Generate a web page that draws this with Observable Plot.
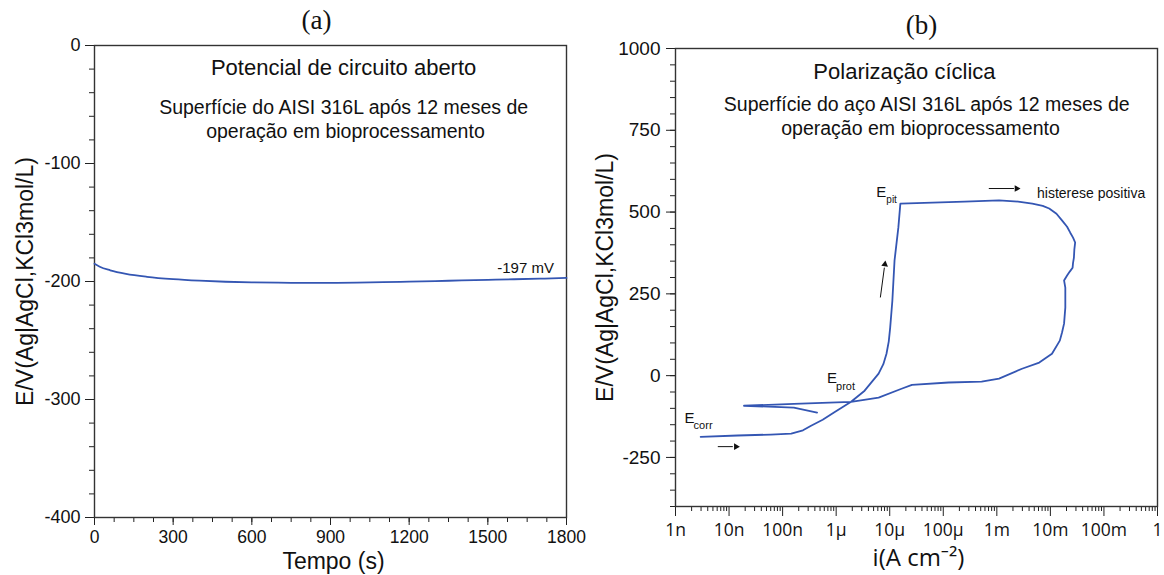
<!DOCTYPE html>
<html>
<head>
<meta charset="utf-8">
<script src="https://cdn.jsdelivr.net/npm/d3@7"></script>
<script src="https://cdn.jsdelivr.net/npm/@observablehq/plot@0.6"></script>
<style>
  html, body { margin: 0; padding: 0; background: #fff; }
  #wrap { position: relative; width: 1164px; height: 575px; overflow: hidden; }
  #wrap svg { position: absolute; top: 0; overflow: visible; }
</style>
</head>
<body>
<div id="wrap"></div>
<script>
// ---------- Panel (a): open circuit potential ----------
const ocpTime = [0, 20, 60, 120, 200, 300, 400, 500, 600, 700, 800, 900, 1000, 1100, 1200, 1300, 1400, 1500, 1600, 1700, 1800];
const ocpPotential = [-185, -187.5, -190.5, -193.5, -196, -198, -199.3, -200.2, -200.7, -201, -201.2, -201.2, -201, -200.6, -200.1, -199.6, -199.1, -198.6, -198.1, -197.6, -197];
const ocpTimeTicks = [0, 300, 600, 900, 1200, 1500, 1800];
const ocpPotTicks = [0, -100, -200, -300, -400];

// ---------- Panel (b): cyclic polarization ----------
const polCurrent = [2.95e-9, 1.45e-8, 6.0e-8, 1.45e-7, 2.4e-7, 3.4e-7, 5.6e-7, 9.1e-7, 1.9e-6, 3.4e-6, 6.2e-6, 7.6e-6, 8.7e-6, 9.6e-6, 1.02e-5, 1.12e-5, 1.23e-5, 1.45e-5, 1.58e-5,
  2.5e-4, 1.1e-3, 2.5e-3, 4.6e-3, 7.2e-3, 9.5e-3, 1.3e-2, 1.66e-2, 2.05e-2, 2.35e-2, 2.65e-2, 2.9e-2, 2.8e-2, 2.75e-2, 2.65e-2, 2.6e-2, 2.3e-2, 2.05e-2, 1.8e-2, 1.9e-2, 1.9e-2, 1.8e-2, 1.65e-2, 1.5e-2, 1.07e-2,
  6.2e-3, 2.95e-3, 1.1e-3, 5.2e-4, 1.26e-4, 2.6e-5, 1.66e-5, 6.2e-6, 1.9e-6, 1.62e-7, 1.9e-8, 5.4e-8, 1.62e-7, 4.4e-7];
const polPotential = [-187, -183, -180, -177, -167, -153, -135, -113, -80, -46, 6, 35, 67, 105, 147, 229, 352, 453, 526,
  532, 536, 532, 526, 519, 511, 495, 474, 455, 437, 422, 407, 385, 361, 345, 330, 318, 306, 291, 269, 208, 159, 132, 107, 67,
  40, 21, -9, -18, -21, -28, -40, -67, -80, -86, -92, -95, -98, -113];
const polCurrentTicks = [1e-9, 1e-8, 1e-7, 1e-6, 1e-5, 1e-4, 1e-3, 1e-2, 1e-1, 1];
const polCurrentLabels = ["1n", "10n", "100n", "1µ", "10µ", "100µ", "1m", "10m", "100m", "1"];
const polPotTicks = [1000, 750, 500, 250, 0, -250];

const blue = "#3456b3";
const sans = "'Liberation Sans', Arial, sans-serif";
const segoe = "'Open Sans', 'Noto Sans', sans-serif";
const serif = "'Liberation Serif', 'Times New Roman', serif";

const ocp = ocpTime.map((t, i) => ({t, E: ocpPotential[i]}));
const pol = polCurrent.map((c, i) => ({i: c, E: polPotential[i]}));

// minor tick positions
const ocpMinorX = d3.range(0, 1801, 75);
const ocpMinorY = d3.range(-400, 1, 20);
const polMinorY = d3.range(-400, 1001, 50);
const polMinorX = [];
for (let e = -9; e < 0; e++) for (let m = 2; m <= 9; m++) polMinorX.push(m * Math.pow(10, e));

const plain = d => String(d);

const plotA = Plot.plot({
  width: 582, height: 575,
  marginLeft: 94, marginRight: 16, marginTop: 45, marginBottom: 58,
  style: {fontFamily: sans, fontSize: "17px", background: "transparent", color: "#111"},
  x: {domain: [0, 1800]},
  y: {domain: [-400, 0]},
  marks: [
    Plot.axisX({ticks: ocpMinorX, tickSize: 5, tickFormat: () => "", label: null, stroke: "#222"}),
    Plot.axisX({ticks: ocpTimeTicks, tickSize: 8, tickPadding: 5, tickFormat: plain, label: null, stroke: "#222", fontSize: 17.5}),
    Plot.axisY({ticks: ocpMinorY, tickSize: 5, tickFormat: () => "", label: null, stroke: "#222"}),
    Plot.axisY({ticks: ocpPotTicks, tickSize: 9, tickPadding: 5, tickFormat: plain, label: null, stroke: "#222", fontSize: 18}),
    Plot.frame({stroke: "#333", strokeWidth: 1.4}),
    Plot.line(ocp, {x: "t", y: "E", stroke: blue, strokeWidth: 1.8, curve: "monotone-x"}),
    Plot.text(["Potencial de circuito aberto"], {x: 950, y: -19, text: d => d, fontSize: 22, fill: "#111"}),
    Plot.text(["Superfície do AISI 316L após 12 meses de"], {x: 950, y: -53, text: d => d, fontSize: 19.5, fill: "#111"}),
    Plot.text(["operação em bioprocessamento"], {x: 957, y: -73, text: d => d, fontSize: 19.5, fill: "#111"}),
    Plot.text(["-197 mV"], {x: 1644, y: -188.5, text: d => d, fontSize: 15, fill: "#111"}),
    Plot.text(["Tempo (s)"], {frameAnchor: "bottom", lineAnchor: "middle", textAnchor: "middle", dx: 3, dy: 44, text: d => d, fontSize: 23, fill: "#111"}),
    Plot.text(["E/V(Ag|AgCl,KCl3mol/L)"], {frameAnchor: "left", textAnchor: "middle", lineAnchor: "middle", rotate: -90, dx: -69, text: d => d, fontSize: 23, fill: "#111"}),
    Plot.text(["(a)"], {frameAnchor: "top", lineAnchor: "middle", textAnchor: "middle", dx: -14, dy: -25, text: d => d, fontSize: 27, fontFamily: serif, fill: "#111"})
  ]
});
plotA.style.left = "0px";

const fmtI = d => polCurrentLabels[polCurrentTicks.findIndex(v => Math.abs(Math.log10(v) - Math.log10(d)) < 1e-6)];
const L = (p) => Math.pow(10, p); // annotation positions given as decade exponents

const plotB = Plot.plot({
  width: 582, height: 575,
  marginLeft: 93, marginRight: 7, marginTop: 48, marginBottom: 69,
  style: {fontFamily: sans, fontSize: "17px", background: "transparent", color: "#111"},
  x: {type: "log", domain: [1e-9, 1]},
  y: {domain: [-400, 1000]},
  marks: [
    Plot.axisX({ticks: polMinorX, tickSize: 5, tickFormat: () => "", label: null, stroke: "#222"}),
    Plot.axisX({ticks: polCurrentTicks, tickSize: 10, tickPadding: 7, tickFormat: fmtI, label: null, stroke: "#222", fontSize: 17.5, fontFamily: segoe}),
    Plot.axisY({ticks: polMinorY, tickSize: 5, tickFormat: () => "", label: null, stroke: "#222"}),
    Plot.axisY({ticks: polPotTicks, tickSize: 9, tickPadding: 6, tickFormat: plain, label: null, stroke: "#222", fontSize: 19}),
    Plot.frame({stroke: "#333", strokeWidth: 1.4}),
    Plot.line(pol, {x: "i", y: "E", stroke: blue, strokeWidth: 1.8, strokeLinejoin: "round"}),
    Plot.text(["Polarização cíclica"], {x: L(-4.725), y: 927, text: d => d, fontSize: 22, fill: "#111"}),
    Plot.text(["Superfície do aço AISI 316L após 12 meses de"], {x: L(-4.31), y: 829, text: d => d, fontSize: 19.5, fill: "#111"}),
    Plot.text(["operação em bioprocessamento"], {x: L(-4.425), y: 755, text: d => d, fontSize: 19.5, fill: "#111"}),
    Plot.text(["histerese positiva"], {x: L(-2.25), y: 557, text: d => d, fontSize: 14, textAnchor: "start", fill: "#111"}),
    // E_pit
    Plot.text(["E"], {x: L(-5.25), y: 560, text: d => d, fontSize: 15, textAnchor: "start", fill: "#111"}),
    Plot.text(["pit"], {x: L(-5.25), y: 560, dx: 10, dy: 7, text: d => d, fontSize: 10, textAnchor: "start", fill: "#111"}),
    // E_prot
    Plot.text(["E"], {x: L(-6.17), y: -9, text: d => d, fontSize: 15, textAnchor: "start", fill: "#111"}),
    Plot.text(["prot"], {x: L(-6.17), y: -9, dx: 9, dy: 8, text: d => d, fontSize: 11, textAnchor: "start", fill: "#111"}),
    // E_corr
    Plot.text(["E"], {x: L(-8.83), y: -131, text: d => d, fontSize: 15, textAnchor: "start", fill: "#111"}),
    Plot.text(["corr"], {x: L(-8.83), y: -131, dx: 9, dy: 7, text: d => d, fontSize: 11, textAnchor: "start", fill: "#111"}),
    // arrows
    Plot.link([0], {x1: L(-3.15), y1: 572, x2: L(-2.68), y2: 572, stroke: "#111", strokeWidth: 1}),
    Plot.dot([0], {x: L(-2.63), y: 572, symbol: "triangle2", r: 3.2, fill: "#111", rotate: 90}),
    Plot.link([0], {x1: L(-5.175), y1: 239, x2: L(-5.10), y2: 330, stroke: "#111", strokeWidth: 1}),
    Plot.dot([0], {x: L(-5.09), y: 340, symbol: "triangle2", r: 3.2, fill: "#111", rotate: 8}),
    Plot.link([0], {x1: L(-8.21), y1: -217, x2: L(-7.93), y2: -217, stroke: "#111", strokeWidth: 1}),
    Plot.dot([0], {x: L(-7.87), y: -217, symbol: "triangle2", r: 3.2, fill: "#111", rotate: 90}),
    Plot.text(["i(A cm⁻²)"], {frameAnchor: "bottom", lineAnchor: "middle", textAnchor: "middle", dx: 2, dy: 52, text: d => d, fontSize: 24, fontFamily: segoe, fill: "#111"}),
    Plot.text(["E/V(Ag|AgCl,KCl3mol/L)"], {frameAnchor: "left", textAnchor: "middle", lineAnchor: "middle", rotate: -90, dx: -70, text: d => d, fontSize: 23, fill: "#111"}),
    Plot.text(["(b)"], {frameAnchor: "top", lineAnchor: "middle", textAnchor: "middle", dx: 5, dy: -23, text: d => d, fontSize: 27, fontFamily: serif, fill: "#111"})
  ]
});
plotB.style.left = "582px";

document.getElementById("wrap").append(plotA, plotB);
</script>
</body>
</html>
